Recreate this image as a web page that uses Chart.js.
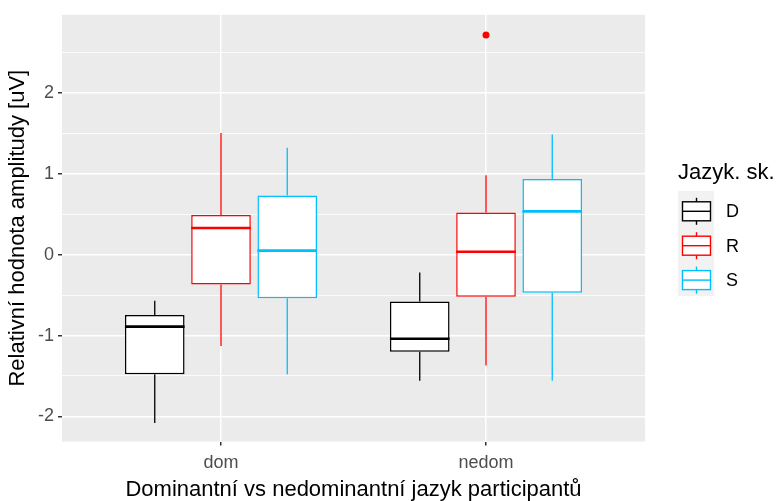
<!DOCTYPE html>
<html>
<head>
<meta charset="utf-8">
<script src="https://cdn.jsdelivr.net/npm/chart.js@4.4.1/dist/chart.umd.min.js"></script>
<style>
    html, body { margin: 0; padding: 0; background: #fff; }
    canvas { display: block; }
</style>
</head>
<body>
<canvas id="boxChart" width="776" height="501"></canvas>
<script>
const groups = ['dom', 'nedom'];
const series = ['D', 'R', 'S'];
const colors = ['#000000', '#FF0000', '#00BFFF'];

// one row per series, one value per group (dom, nedom)
const whiskerLow  = [[-2.08, -1.56], [-1.13, -1.37], [-1.48, -1.56]];
const quart1      = [[-1.48, -1.20], [-0.37, -0.52], [-0.54, -0.47]];
const medians     = [[-0.89, -1.04], [0.33, 0.035], [0.05, 0.535]];
const quart3      = [[-0.745, -0.58], [0.49, 0.52], [0.73, 0.935]];
const whiskerHigh = [[-0.57, -0.22], [1.505, 0.98], [1.32, 1.485]];
const outlierSeries = ['R'];
const outlierGroups = ['nedom'];
const outlierValues = [2.715];

const yTicks = [-2, -1.5, -1, -0.5, 0, 0.5, 1, 1.5, 2, 2.5];

const FONT = "'Liberation Sans', Arial, sans-serif";
const DODGE = 0.75;

// boxes as floating bars
const boxSets = series.map((s, i) => ({
    type: 'bar',
    label: s,
    data: groups.map((g, j) => ({ x: j + 1, y: [quart1[i][j], quart3[i][j]] })),
    backgroundColor: '#FFFFFF',
    borderColor: colors[i],
    borderWidth: 1.5,
    borderSkipped: false,
    categoryPercentage: DODGE,
    barPercentage: 0.9
}));

const outlierSet = {
    type: 'scatter',
    label: 'outliers',
    data: outlierValues.map((v, k) => {
        const si = series.indexOf(outlierSeries[k]);
        const gi = groups.indexOf(outlierGroups[k]);
        return { x: gi + 1 + (si - (series.length - 1) / 2) * DODGE / series.length, y: v };
    }),
    pointRadius: 3.5,
    pointBackgroundColor: outlierSeries.map(s => colors[series.indexOf(s)]),
    pointBorderWidth: 0
};

const panelBg = {
    id: 'panelBg',
    beforeDraw(chart) {
        const { ctx, chartArea: a } = chart;
        ctx.save();
        ctx.fillStyle = '#EBEBEB';
        ctx.fillRect(a.left, a.top, a.right - a.left, a.bottom - a.top);
        ctx.restore();
    }
};

// whiskers + medians on top of the floating bars
const boxParts = {
    id: 'boxParts',
    afterDatasetsDraw(chart) {
        const { ctx } = chart;
        const y = chart.scales.y;
        ctx.save();
        series.forEach((s, i) => {
            const meta = chart.getDatasetMeta(i);
            meta.data.forEach((el, j) => {
                const { x, width } = el.getProps(['x', 'width'], true);
                ctx.strokeStyle = colors[i];
                ctx.lineWidth = 1.3;
                ctx.beginPath();
                ctx.moveTo(x, y.getPixelForValue(quart3[i][j]));
                ctx.lineTo(x, y.getPixelForValue(whiskerHigh[i][j]));
                ctx.moveTo(x, y.getPixelForValue(quart1[i][j]));
                ctx.lineTo(x, y.getPixelForValue(whiskerLow[i][j]));
                ctx.stroke();
                ctx.lineWidth = 2.6;
                const my = y.getPixelForValue(medians[i][j]);
                ctx.beginPath();
                ctx.moveTo(x - width / 2, my);
                ctx.lineTo(x + width / 2, my);
                ctx.stroke();
            });
        });
        ctx.restore();
    }
};

// ggplot-like legend with boxplot keys
const boxLegend = {
    id: 'boxLegend',
    afterDraw(chart) {
        const { ctx } = chart;
        ctx.save();
        ctx.fillStyle = '#000';
        ctx.font = `22px ${FONT}`;
        ctx.textBaseline = 'alphabetic';
        ctx.fillText('Jazyk. sk.', 678, 179);

        const rowH = 34.4;
        ctx.fillStyle = '#F2F2F2';
        ctx.fillRect(678, 191, 36, series.length * 35);

        series.forEach((s, i) => {
            const cy = 211.3 + i * rowH;
            ctx.strokeStyle = colors[i];
            ctx.lineWidth = 1.4;
            ctx.beginPath();
            ctx.moveTo(696.5, cy - 13.5);
            ctx.lineTo(696.5, cy + 13.5);
            ctx.stroke();
            ctx.fillStyle = '#FFFFFF';
            ctx.fillRect(682.5, cy - 9.5, 28, 19);
            ctx.strokeRect(682.5, cy - 9.5, 28, 19);
            ctx.beginPath();
            ctx.moveTo(682.5, cy);
            ctx.lineTo(710.5, cy);
            ctx.stroke();

            ctx.fillStyle = '#000';
            ctx.font = `18px ${FONT}`;
            ctx.textBaseline = 'middle';
            ctx.fillText(s, 726, cy + 1);
        });
        ctx.restore();
    }
};

new Chart(document.getElementById('boxChart'), {
    type: 'bar',
    data: { datasets: [...boxSets, outlierSet] },
    plugins: [panelBg, boxParts, boxLegend],
    options: {
        responsive: false,
        animation: false,
        layout: { padding: { left: 0, top: 13, right: 131, bottom: 0 } },
        plugins: {
            legend: { display: false },
            tooltip: { enabled: false }
        },
        scales: {
            x: {
                type: 'linear',
                min: 0.4,
                max: 2.6,
                offset: false,
                afterBuildTicks: sc => { sc.ticks = groups.map((g, j) => ({ value: j + 1 })); },
                afterFit: sc => { sc.height = 59.5; },
                ticks: {
                    callback: (v, i) => groups[i],
                    color: '#4D4D4D',
                    font: { family: FONT, size: 18 },
                    padding: 7,
                    autoSkip: false,
                    maxRotation: 0
                },
                grid: { offset: false, color: '#FFFFFF', lineWidth: 1.5, tickLength: 4, tickColor: '#333333' },
                border: { display: false },
                title: {
                    display: true,
                    text: 'Dominantní vs nedominantní jazyk participantů',
                    color: '#000',
                    font: { family: FONT, size: 22, lineHeight: 1 },
                    padding: { top: 0, bottom: 0 }
                }
            },
            y: {
                min: -2.31,
                max: 2.965,
                afterBuildTicks: sc => { sc.ticks = yTicks.map(v => ({ value: v })); },
                afterFit: sc => { sc.width = 62; },
                ticks: {
                    callback: v => Number.isInteger(v) ? String(v) : '',
                    color: '#4D4D4D',
                    font: { family: FONT, size: 18 },
                    padding: 4,
                    autoSkip: false
                },
                grid: {
                    color: '#FFFFFF',
                    lineWidth: c => Number.isInteger(c.tick.value) ? 1.5 : 0.8,
                    tickLength: 4,
                    tickColor: c => Number.isInteger(c.tick.value) ? '#333333' : 'rgba(0,0,0,0)'
                },
                border: { display: false },
                title: {
                    display: true,
                    text: 'Relativní hodnota amplitudy [uV]',
                    color: '#000',
                    font: { family: FONT, size: 22, lineHeight: 1 },
                    padding: { top: 7, bottom: 0 }
                }
            }
        }
    }
});
</script>
</body>
</html>
